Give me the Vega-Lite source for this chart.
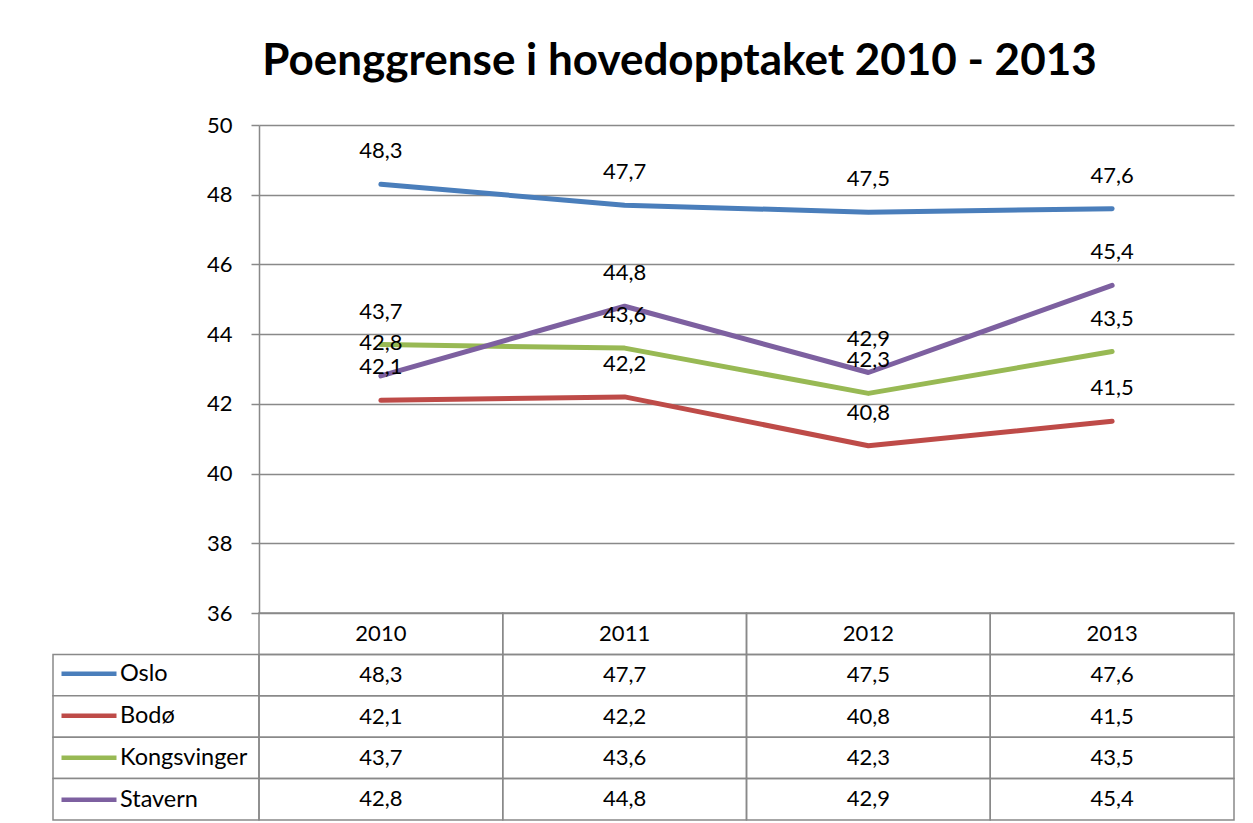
{
  "$schema": "https://vega.github.io/schema/vega-lite/v6.json",
  "autosize": {"type": "pad"},
  "padding": {"left": 52, "top": 40, "right": 5, "bottom": 2},
  "background": "white",
  "title": {
    "text": "Poenggrense i hovedopptaket 2010 - 2013",
    "font": "Lato",
    "fontSize": 44,
    "fontWeight": "bold",
    "color": "black",
    "anchor": "middle",
    "frame": "bounds",
    "baseline": "alphabetic",
    "offset": -5,
    "dx": 36
  },
  "datasets": {
    "scores": [
      {"year": "2010", "series": "Oslo", "value": 48.3},
      {"year": "2011", "series": "Oslo", "value": 47.7},
      {"year": "2012", "series": "Oslo", "value": 47.5},
      {"year": "2013", "series": "Oslo", "value": 47.6},
      {"year": "2010", "series": "Bodø", "value": 42.1},
      {"year": "2011", "series": "Bodø", "value": 42.2},
      {"year": "2012", "series": "Bodø", "value": 40.8},
      {"year": "2013", "series": "Bodø", "value": 41.5},
      {"year": "2010", "series": "Kongsvinger", "value": 43.7},
      {"year": "2011", "series": "Kongsvinger", "value": 43.6},
      {"year": "2012", "series": "Kongsvinger", "value": 42.3},
      {"year": "2013", "series": "Kongsvinger", "value": 43.5},
      {"year": "2010", "series": "Stavern", "value": 42.8},
      {"year": "2011", "series": "Stavern", "value": 44.8},
      {"year": "2012", "series": "Stavern", "value": 42.9},
      {"year": "2013", "series": "Stavern", "value": 45.4}
    ],
    "years": [{"year": "2010"}, {"year": "2011"}, {"year": "2012"}, {"year": "2013"}],
    "serieslist": [{"series": "Oslo"}, {"series": "Bodø"}, {"series": "Kongsvinger"}, {"series": "Stavern"}]
  },
  "spacing": 0,
  "bounds": "flush",
  "hconcat": [
    {
      "width": 206,
      "height": 695,
      "data": {"name": "serieslist"},
      "mark": {"type": "rect", "fill": "white", "stroke": "#898989", "strokeWidth": 1.5},
      "encoding": {
        "y": {
          "field": "series",
          "type": "nominal",
          "scale": {"domain": ["header", "Oslo", "Bodø", "Kongsvinger", "Stavern"], "range": [488, 695], "paddingInner": 0, "paddingOuter": 0},
          "axis": null
        }
      }
    },
    {
      "width": 975,
      "height": 695,
      "resolve": {"scale": {"y": "independent"}},
      "layer": [
        {
          "data": {"name": "scores"},
          "encoding": {
            "x": {
              "field": "year",
              "type": "ordinal",
              "bandPosition": 0.5,
              "scale": {"type": "band", "paddingInner": 0, "paddingOuter": 0},
              "axis": null
            },
            "y": {
              "field": "value",
              "type": "quantitative",
              "scale": {"domain": [36, 50], "range": [488, 0], "zero": false, "nice": false},
              "axis": {
                "values": [36, 38, 40, 42, 44, 46, 48, 50],
                "grid": true,
                "gridColor": "#898989",
                "gridWidth": 1.5,
                "domainColor": "#898989",
                "domainWidth": 1.5,
                "tickColor": "#898989",
                "tickWidth": 1.5,
                "tickSize": 8,
                "labelPadding": 19,
                "labelFontSize": 22,
                "labelFont": "Lato",
                "labelColor": "black",
                "title": null
              }
            }
          },
          "layer": [
            {
              "mark": {"type": "line", "strokeWidth": 5, "strokeCap": "round", "strokeJoin": "round"},
              "encoding": {
                "color": {
                  "field": "series",
                  "type": "nominal",
                  "scale": {"domain": ["Oslo", "Bodø", "Kongsvinger", "Stavern"], "range": ["#4A7EBB", "#BE4B48", "#98B954", "#7D60A0"]},
                  "legend": {
                    "orient": "none",
                    "legendX": 6,
                    "legendY": 528,
                    "title": null,
                    "symbolType": "stroke",
                    "symbolSize": 3025,
                    "symbolStrokeWidth": 4.5,
                    "labelFontSize": 23.5,
                    "labelFont": "Lato",
                    "labelColor": "black",
                    "clipHeight": 41.4,
                    "rowPadding": 0,
                    "padding": 0,
                    "labelOffset": 1,
                    "symbolOffset": 0
                  }
                }
              }
            },
            {
              "mark": {"type": "text", "dy": -33, "fontSize": 22, "font": "Lato", "color": "black", "baseline": "middle"},
              "encoding": {"text": {"field": "value", "type": "quantitative", "format": ".1f"}}
            }
          ]
        },
        {
          "layer": [
            {
              "data": {"name": "scores"},
              "mark": {"type": "rect", "fill": "white", "fillOpacity": 0, "stroke": "#898989", "strokeWidth": 1.5},
              "encoding": {
                "x": {"field": "year", "type": "ordinal"},
                "y": {
                  "field": "series",
                  "type": "nominal",
                  "scale": {"domain": ["header", "Oslo", "Bodø", "Kongsvinger", "Stavern"], "range": [488, 695], "paddingInner": 0, "paddingOuter": 0},
                  "axis": null
                }
              }
            },
            {
              "data": {"name": "scores"},
              "mark": {"type": "text", "fontSize": 22, "font": "Lato", "color": "black", "baseline": "middle"},
              "encoding": {
                "x": {"field": "year", "type": "ordinal", "bandPosition": 0.5},
                "y": {"field": "series", "type": "nominal", "bandPosition": 0.5},
                "text": {"field": "value", "type": "quantitative", "format": ".1f"}
              }
            },
            {
              "data": {"name": "years"},
              "mark": {"type": "rect", "fill": "white", "fillOpacity": 0, "stroke": "#898989", "strokeWidth": 1.5},
              "encoding": {
                "x": {"field": "year", "type": "ordinal"},
                "y": {"datum": "header", "type": "nominal"}
              }
            },
            {
              "data": {"name": "years"},
              "mark": {"type": "text", "fontSize": 22, "font": "Lato", "color": "black", "baseline": "middle"},
              "encoding": {
                "x": {"field": "year", "type": "ordinal", "bandPosition": 0.5},
                "y": {"datum": "header", "type": "nominal", "bandPosition": 0.5},
                "text": {"field": "year", "type": "nominal"}
              }
            }
          ]
        }
      ]
    }
  ],
  "config": {
    "font": "Lato",
    "view": {"stroke": null},
    "locale": {"number": {"decimal": ",", "thousands": " ", "grouping": [3], "currency": ["", " kr"]}}
  }
}
